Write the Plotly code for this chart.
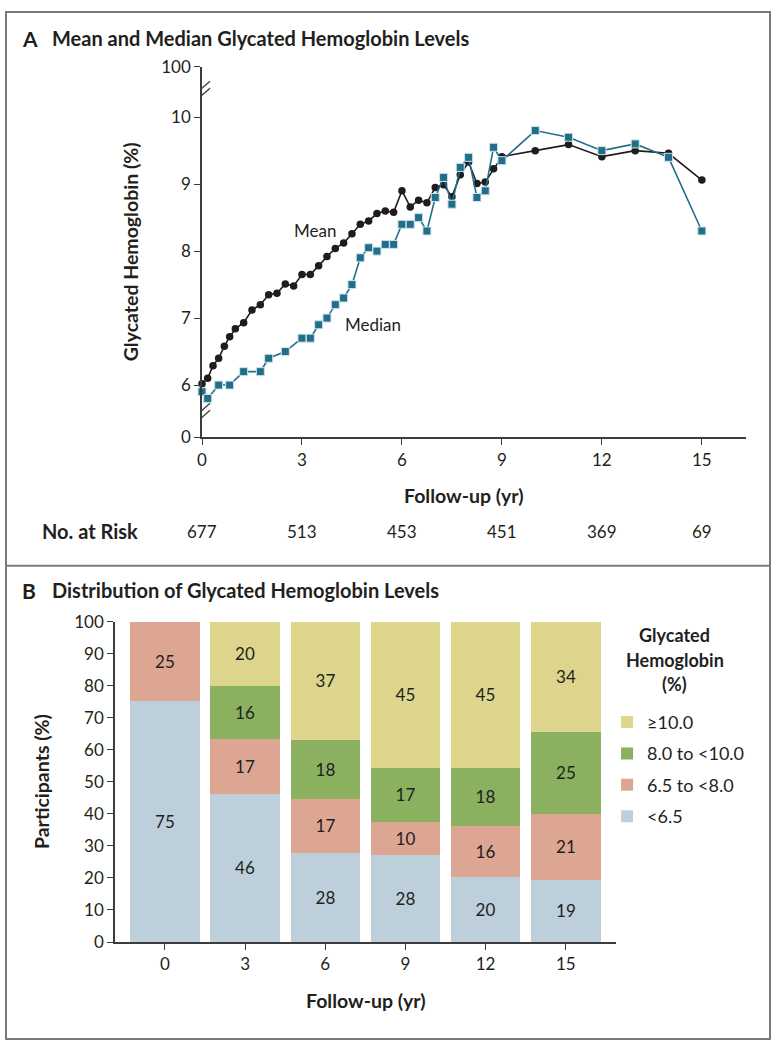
import plotly.graph_objects as go

# Panel A data: follow-up years and HbA1c values (%)
mean_years = [0, 0.17, 0.33, 0.5, 0.67, 0.83, 1.0, 1.25, 1.5, 1.75, 2.0, 2.25, 2.5, 2.75,
              3.0, 3.25, 3.5, 3.75, 4.0, 4.25, 4.5, 4.75, 5.0, 5.25, 5.5, 5.75, 6.0, 6.25,
              6.5, 6.75, 7.0, 7.25, 7.5, 7.75, 8.0, 8.25, 8.5, 8.75, 9.0, 10, 11, 12, 13, 14, 15]
mean_hba1c = [6.02, 6.10, 6.29, 6.40, 6.58, 6.72, 6.84, 6.93, 7.12, 7.20, 7.35, 7.37, 7.51, 7.48,
              7.65, 7.65, 7.78, 7.92, 8.04, 8.12, 8.26, 8.40, 8.45, 8.56, 8.60, 8.58, 8.90, 8.66,
              8.76, 8.72, 8.95, 8.99, 8.81, 9.14, 9.33, 9.01, 9.03, 9.23, 9.41, 9.50, 9.59, 9.41,
              9.50, 9.46, 9.06]

median_years = [0, 0.17, 0.5, 0.83, 1.25, 1.75, 2.0, 2.5, 3.0, 3.25, 3.5, 3.75, 4.0, 4.25, 4.5,
                4.75, 5.0, 5.25, 5.5, 5.75, 6.0, 6.25, 6.5, 6.75, 7.0, 7.25, 7.5, 7.75, 8.0,
                8.25, 8.5, 8.75, 9.0, 10, 11, 12, 13, 14, 15]
median_hba1c = [5.9, 5.8, 6.0, 6.0, 6.2, 6.2, 6.4, 6.5, 6.7, 6.7, 6.9, 7.0, 7.2, 7.3, 7.5,
                7.9, 8.05, 8.0, 8.1, 8.1, 8.4, 8.4, 8.5, 8.3, 8.8, 9.1, 8.7, 9.25, 9.4,
                8.8, 8.9, 9.55, 9.35, 9.8, 9.7, 9.5, 9.6, 9.4, 8.3]

risk_years = [0, 3, 6, 9, 12, 15]
risk_counts = [677, 513, 453, 451, 369, 69]

# Panel B data: share of participants per category (bar heights)
bar_years = [0, 3, 6, 9, 12, 15]
below_6_5 = [75.2, 46.2, 27.9, 27.2, 20.2, 19.3]
from_6_5 = [24.8, 17.2, 16.9, 10.4, 16.1, 20.8]
from_8_0 = [0, 16.7, 18.2, 16.8, 18.1, 25.5]
above_10 = [0, 19.9, 37.0, 45.6, 45.6, 34.4]
# printed labels
below_6_5_lbl = ["75", "46", "28", "28", "20", "19"]
from_6_5_lbl = ["25", "17", "17", "10", "16", "21"]
from_8_0_lbl = ["", "16", "18", "17", "18", "25"]
above_10_lbl = ["", "20", "37", "45", "45", "34"]
legend_title_lines = ["Glycated", "Hemoglobin", "(%)"]

W, H = 771, 1050
FONT = "Lato"
INK = "#231f20"
AXIS = "#3c3c3c"


def px(x):
    return x / W


def py(y):
    return 1 - y / H


fig = go.Figure()

fig.add_trace(go.Scatter(
    x=mean_years, y=mean_hba1c, mode="lines+markers", name="Mean",
    line=dict(color="#1e1c1d", width=1.6),
    marker=dict(symbol="circle", size=7.5, color="#1e1c1d"),
    cliponaxis=False, showlegend=False, xaxis="x", yaxis="y"))
fig.add_trace(go.Scatter(
    x=median_years, y=median_hba1c, mode="lines+markers", name="Median",
    line=dict(color="#216e8a", width=1.6),
    marker=dict(symbol="square", size=8, color="#216e8a", line=dict(color="#cfe3ea", width=1)),
    cliponaxis=False, showlegend=False, xaxis="x", yaxis="y"))

bar_sets = [
    ("<6.5", below_6_5, below_6_5_lbl, "#bccfda", 4),
    ("6.5 to <8.0", from_6_5, from_6_5_lbl, "#dda693", 3),
    ("8.0 to <10.0", from_8_0, from_8_0_lbl, "#8ab060", 2),
    ("≥10.0", above_10, above_10_lbl, "#ddd58c", 1),
]
for name, vals, labels, color, rank in bar_sets:
    fig.add_trace(go.Bar(
        x=bar_years, y=vals, name=name, text=labels, textposition="inside",
        insidetextanchor="middle", textangle=0,
        textfont=dict(family=FONT, size=17, color=INK),
        marker=dict(color=color, line=dict(width=0)), width=2.6,
        legendgroup=name, legendrank=rank, xaxis="x2", yaxis="y2"))

# broken axis: 0 and 100 drawn at fixed positions below 6 and above 10
y_zero = 5.22
y_hundred = 10.755
y_break_low = 5.57
y_break_high = 10.38

fig.update_layout(
    width=W, height=H,
    margin=dict(l=0, r=0, t=0, b=0),
    paper_bgcolor="white", plot_bgcolor="white",
    font=dict(family=FONT, size=16, color=INK),
    barmode="stack", bargap=0,
    showlegend=True, hovermode=False,
    legend=dict(
        x=px(606), y=py(707), xanchor="left", yanchor="top",
        traceorder="grouped", tracegroupgap=5,
        font=dict(family=FONT, size=18, color=INK),
        itemclick=False, bgcolor="rgba(0,0,0,0)"),
    xaxis=dict(
        domain=[px(198.3), px(746)], range=[0, 16.33], anchor="y",
        tickvals=risk_years, ticks="outside", ticklen=6, tickwidth=1.3, tickcolor=AXIS,
        showline=True, linecolor=AXIS, linewidth=1.6, showgrid=False, zeroline=False,
        tickfont=dict(size=17)),
    yaxis=dict(
        domain=[py(435), py(56.7)], range=[y_zero, y_hundred], anchor="x",
        tickvals=[y_zero, 6, 7, 8, 9, 10, y_hundred],
        ticktext=["0", "6", "7", "8", "9", "10", "100"],
        ticks="outside", ticklen=6, tickwidth=1.3, tickcolor=AXIS,
        showline=True, linecolor=AXIS, linewidth=1.6, showgrid=False, zeroline=False,
        tickfont=dict(size=17)),
    xaxis2=dict(
        domain=[px(110.7), px(615)], range=[-1.87, 16.88], anchor="y2",
        tickvals=bar_years, ticks="outside", ticklen=6, tickwidth=1.3, tickcolor=AXIS,
        showline=True, linecolor=AXIS, linewidth=1.6, showgrid=False, zeroline=False,
        tickfont=dict(size=17)),
    yaxis2=dict(
        domain=[py(950), py(623.3)], range=[0, 100], anchor="x2",
        tickvals=[0, 10, 20, 30, 40, 50, 60, 70, 80, 90, 100],
        ticks="outside", ticklen=6, tickwidth=1.3, tickcolor=AXIS,
        showline=True, linecolor=AXIS, linewidth=1.6, showgrid=False, zeroline=False,
        tickfont=dict(size=17)),
)

shapes = [
    # frame and panel divider
    dict(type="rect", xref="paper", yref="paper", x0=px(1), x1=px(770), y0=py(1049), y1=py(1),
         line=dict(color="#7a7a7a", width=2)),
    dict(type="line", xref="paper", yref="paper", x0=0, x1=1, y0=py(566), y1=py(566),
         line=dict(color="#7a7a7a", width=2)),
]
for yb in (y_break_low, y_break_high):
    shapes.append(dict(type="line", xref="x", yref="y", xsizemode="pixel", ysizemode="pixel",
                       xanchor=0, yanchor=yb, x0=0, x1=0, y0=-4, y1=4,
                       line=dict(color="white", width=4)))
    for off in (-3.5, 3.5):
        shapes.append(dict(type="line", xref="x", yref="y", xsizemode="pixel", ysizemode="pixel",
                           xanchor=0, yanchor=yb, x0=-8, x1=8, y0=off - 7, y1=off + 7,
                           line=dict(color=AXIS, width=1.3)))
fig.update_layout(shapes=shapes)

annotations = [
    dict(text="<b>A</b>", x=px(15), y=py(28), font=dict(size=21)),
    dict(text="<b>Mean and Median Glycated Hemoglobin Levels</b>", x=px(45), y=py(28),
         font=dict(size=20)),
    dict(text="<b>B</b>", x=px(15), y=py(591), font=dict(size=21)),
    dict(text="<b>Distribution of Glycated Hemoglobin Levels</b>", x=px(45), y=py(591),
         font=dict(size=20)),
    dict(text="<b>No. at Risk</b>", x=px(35), y=py(531), font=dict(size=20)),
]
for a in annotations:
    a.update(xref="paper", yref="paper", xanchor="left", yanchor="middle", showarrow=False)

centered = [
    dict(text="<b>Glycated Hemoglobin (%)</b>", x=px(126), y=py(246), textangle=-90,
         font=dict(size=19.5)),
    dict(text="<b>Follow-up (yr)</b>", x=px(462), y=py(494), font=dict(size=19.5)),
    dict(text="<b>Participants (%)</b>", x=px(37), y=py(786), textangle=-90,
         font=dict(size=19.5)),
    dict(text="<b>Follow-up (yr)</b>", x=px(363), y=py(1010), font=dict(size=19.5)),
]
for line, ypix in zip(legend_title_lines, [637, 662, 687]):
    centered.append(dict(text="<b>" + line + "</b>", x=px(674), y=py(ypix),
                         font=dict(size=18)))
for a in centered:
    a.update(xref="paper", yref="paper", xanchor="center", yanchor="middle", showarrow=False)
annotations += centered

annotations += [
    dict(text="Mean", xref="x", yref="y", x=3.38, y=8.31, showarrow=False,
         xanchor="center", yanchor="middle", font=dict(size=17)),
    dict(text="Median", xref="x", yref="y", x=5.12, y=6.90, showarrow=False,
         xanchor="center", yanchor="middle", font=dict(size=17)),
]
for yr, n in zip(risk_years, risk_counts):
    annotations.append(dict(text=str(n), xref="x", yref="paper", x=yr, y=py(531),
                            xanchor="center", yanchor="middle",
                            showarrow=False, font=dict(size=17)))
fig.update_layout(annotations=annotations)

fig.write_html(
    "out.html",
    config={"displayModeBar": False},
    post_script="document.body.style.margin='0px'; document.body.style.overflow='hidden';")
